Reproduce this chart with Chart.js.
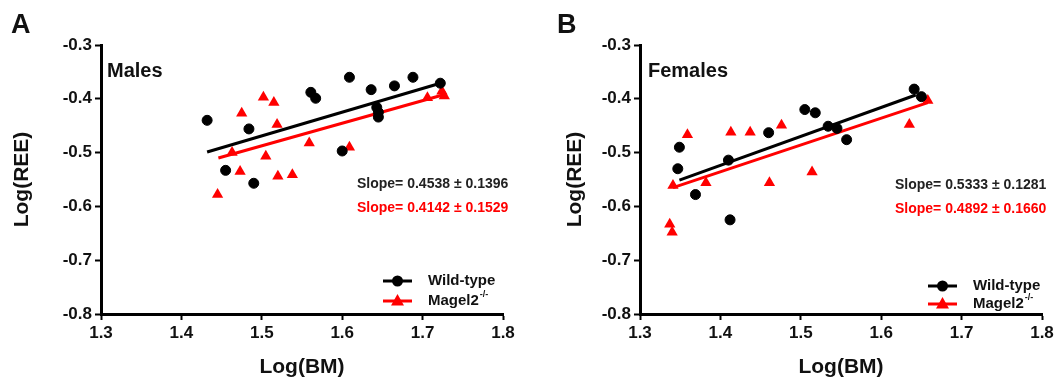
<!DOCTYPE html>
<html lang="en">
<head>
<meta charset="UTF-8">
<title>Log(REE) vs Log(BM)</title>
<script src="https://cdn.jsdelivr.net/npm/chart.js"></script>
<style>
  body { margin: 0; background: #fff; }
  .panel { position: absolute; top: 0; height: 381px; }
  #panelA { left: 0; width: 530px; }
  #panelB { left: 540px; width: 519px; }
</style>
</head>
<body>
<div class="panel" id="panelA"><canvas id="chartA"></canvas></div>
<div class="panel" id="panelB"><canvas id="chartB"></canvas></div>

<script>
// ---- data ----
const xTicks = [1.3, 1.4, 1.5, 1.6, 1.7, 1.8];
const yTicks = [-0.8, -0.7, -0.6, -0.5, -0.4, -0.3];
const seriesNames = ['Wild-type', 'Magel2'];

// Males
const maleWtX = [1.432, 1.455, 1.484, 1.490, 1.561, 1.567, 1.600, 1.609, 1.636, 1.643, 1.645, 1.645, 1.665, 1.688, 1.722];
const maleWtY = [-0.440, -0.533, -0.456, -0.557, -0.388, -0.399, -0.497, -0.360, -0.383, -0.416, -0.425, -0.434, -0.376, -0.360, -0.371];
const maleKoX = [1.445, 1.463, 1.473, 1.475, 1.502, 1.505, 1.515, 1.519, 1.520, 1.538, 1.559, 1.609, 1.706, 1.724, 1.727];
const maleKoY = [-0.578, -0.500, -0.535, -0.427, -0.397, -0.507, -0.407, -0.448, -0.544, -0.541, -0.482, -0.490, -0.398, -0.386, -0.395];
const maleWtFitX = [1.432, 1.722];
const maleWtFitY = [-0.499, -0.371];
const maleKoFitX = [1.446, 1.725];
const maleKoFitY = [-0.510, -0.393];
const maleSlopes = ['Slope= 0.4538 \u00b1 0.1396', 'Slope= 0.4142 \u00b1 0.1529'];

// Females
const femWtX = [1.347, 1.349, 1.369, 1.410, 1.412, 1.460, 1.505, 1.518, 1.534, 1.545, 1.557, 1.641, 1.650];
const femWtY = [-0.530, -0.490, -0.578, -0.514, -0.625, -0.463, -0.420, -0.426, -0.451, -0.455, -0.476, -0.382, -0.396];
const femKoX = [1.337, 1.340, 1.341, 1.359, 1.382, 1.413, 1.437, 1.461, 1.476, 1.514, 1.635, 1.658];
const femKoY = [-0.633, -0.648, -0.561, -0.467, -0.556, -0.462, -0.462, -0.556, -0.449, -0.536, -0.448, -0.403];
const femWtFitX = [1.349, 1.643];
const femWtFitY = [-0.551, -0.393];
const femKoFitX = [1.341, 1.658];
const femKoFitY = [-0.565, -0.407];
const femSlopes = ['Slope= 0.5333 \u00b1 0.1281', 'Slope= 0.4892 \u00b1 0.1660'];

const FONT = 'Arial, "Liberation Sans", sans-serif';
const BLACK = '#000000';
const RED = '#ff0000';

const pts = (xs, ys) => xs.map((x, i) => ({ x: x, y: ys[i] }));

// text and legend drawn on top of the plot
const notes = {
  id: 'notes',
  afterDraw(chart, args, o) {
    const { ctx, chartArea: a } = chart;
    ctx.save();
    ctx.textAlign = 'left';
    ctx.textBaseline = 'alphabetic';
    ctx.fillStyle = '#111';
    ctx.font = 'bold 27px ' + FONT;
    ctx.fillText(o.letter, o.letterX, 33);

    ctx.textBaseline = 'middle';
    ctx.font = 'bold 20px ' + FONT;
    ctx.fillText(o.group, a.left + o.groupDx, 71);

    ctx.font = 'bold 14px ' + FONT;
    ctx.fillStyle = '#222';
    ctx.fillText(o.slopes[0], a.left + o.slopeDx, o.slopeY[0]);
    ctx.fillStyle = RED;
    ctx.fillText(o.slopes[1], a.left + o.slopeDx, o.slopeY[1]);

    // legend
    const colors = [BLACK, RED];
    o.legY.forEach((y, i) => {
      const x0 = a.left + o.legDx;
      ctx.strokeStyle = colors[i];
      ctx.fillStyle = colors[i];
      ctx.lineWidth = 3;
      ctx.beginPath();
      ctx.moveTo(x0, y);
      ctx.lineTo(x0 + 29, y);
      ctx.stroke();
      ctx.beginPath();
      if (i === 0) {
        ctx.arc(x0 + 14.5, y, 5.5, 0, Math.PI * 2);
      } else {
        ctx.moveTo(x0 + 14.5, y - 7);
        ctx.lineTo(x0 + 21, y + 4.5);
        ctx.lineTo(x0 + 8, y + 4.5);
        ctx.closePath();
      }
      ctx.fill();
      ctx.fillStyle = '#111';
      ctx.font = 'bold 15px ' + FONT;
      const tx = x0 + 45;
      ctx.fillText(seriesNames[i], tx, y);
      if (i === 1) {
        const w = ctx.measureText(seriesNames[i]).width;
        ctx.font = 'bold 9px ' + FONT;
        ctx.fillText('-/-', tx + w + 1, y - 6);
      }
    });
    ctx.restore();
  }
};

function makeChart(id, d, cfg) {
  return new Chart(document.getElementById(id), {
    type: 'scatter',
    data: {
      datasets: [
        { data: pts(d.wtX, d.wtY), backgroundColor: BLACK, borderColor: BLACK, pointRadius: 5, borderWidth: 1, pointStyle: 'circle' },
        { data: pts(d.koX, d.koY), backgroundColor: RED, borderColor: RED, pointRadius: 6.5, borderWidth: 0, pointStyle: 'triangle' },
        { type: 'line', data: pts(d.wtFitX, d.wtFitY), borderColor: BLACK, borderWidth: 3, pointRadius: 0, fill: false },
        { type: 'line', data: pts(d.koFitX, d.koFitY), borderColor: RED, borderWidth: 3, pointRadius: 0, fill: false }
      ]
    },
    options: {
      responsive: true,
      maintainAspectRatio: false,
      animation: false,
      layout: { padding: { left: 0, top: 45, right: cfg.padRight, bottom: 0 } },
      plugins: {
        legend: { display: false },
        tooltip: { enabled: false },
        notes: cfg.notes
      },
      scales: {
        x: {
          type: 'linear',
          min: xTicks[0], max: xTicks[xTicks.length - 1],
          afterBuildTicks: s => { s.ticks = xTicks.map(v => ({ value: v })); },
          afterFit: s => { s.height = 67; },
          border: { display: true, color: BLACK, width: 3 },
          grid: { drawOnChartArea: false, drawTicks: true, tickLength: 6, tickWidth: 2, tickColor: BLACK },
          ticks: { color: '#111', padding: 3, font: { family: FONT, size: 17, weight: 'bold' }, callback: v => v.toFixed(1) },
          title: { display: true, text: 'Log(BM)', color: '#111', font: { family: FONT, size: 21, weight: 'bold' }, padding: { top: 0, bottom: 1.4 } }
        },
        y: {
          type: 'linear',
          min: yTicks[0], max: yTicks[yTicks.length - 1],
          afterBuildTicks: s => { s.ticks = yTicks.map(v => ({ value: v })); },
          afterFit: s => { s.width = cfg.areaLeft; },
          border: { display: true, color: BLACK, width: 3 },
          grid: { drawOnChartArea: false, drawTicks: true, tickLength: 6, tickWidth: 2, tickColor: BLACK },
          ticks: { color: '#111', padding: 3, font: { family: FONT, size: 17, weight: 'bold' }, callback: v => v.toFixed(1) },
          title: { display: true, text: 'Log(REE)', color: '#111', font: { family: FONT, size: 21, weight: 'bold' }, padding: { top: cfg.titlePad, bottom: 0 } }
        }
      }
    },
    plugins: [notes]
  });
}

makeChart('chartA',
  { wtX: maleWtX, wtY: maleWtY, koX: maleKoX, koY: maleKoY,
    wtFitX: maleWtFitX, wtFitY: maleWtFitY, koFitX: maleKoFitX, koFitY: maleKoFitY },
  { areaLeft: 101, padRight: 27, titlePad: 9.4,
    notes: { letter: 'A', letterX: 11, group: 'Males', groupDx: 6, slopes: maleSlopes, slopeDx: 256, slopeY: [184, 208], legDx: 282, legY: [281, 301] } });

makeChart('chartB',
  { wtX: femWtX, wtY: femWtY, koX: femKoX, koY: femKoY,
    wtFitX: femWtFitX, wtFitY: femWtFitY, koFitX: femKoFitX, koFitY: femKoFitY },
  { areaLeft: 100, padRight: 17, titlePad: 22.4,
    notes: { letter: 'B', letterX: 17, group: 'Females', groupDx: 8, slopes: femSlopes, slopeDx: 255, slopeY: [185, 209], legDx: 288, legY: [286, 304] } });
</script>
</body>
</html>
